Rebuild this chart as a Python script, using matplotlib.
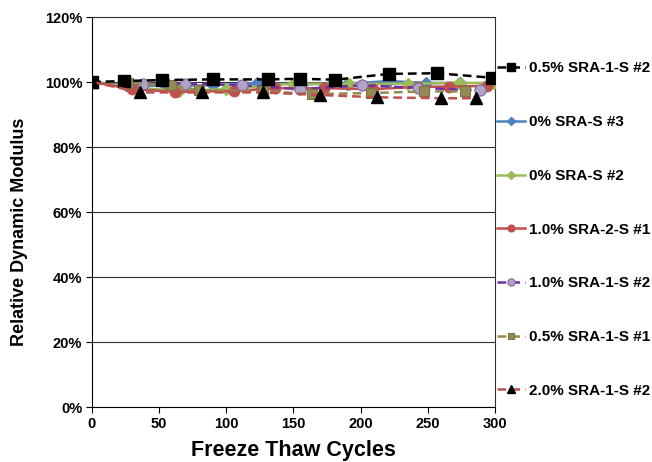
import matplotlib
matplotlib.use("Agg")
import matplotlib.pyplot as plt
from matplotlib.ticker import FuncFormatter

plt.rcParams["font.family"] = ["Liberation Sans", "DejaVu Sans"]
plt.rcParams["font.weight"] = "bold"

# Relative dynamic modulus (%) vs freeze-thaw cycles
x_sra1_05_2 = [0, 24, 52, 90, 131, 155, 181, 221, 257, 298]
y_sra1_05_2 = [100, 100.3, 100.6, 100.8, 100.8, 101.0, 100.7, 102.5, 102.7, 101.3]

x_sra0_3 = [0, 25, 55, 90, 123, 156, 190, 221, 249, 274]
y_sra0_3 = [100, 99.0, 98.8, 99.0, 99.7, 99.3, 99.5, 100.3, 99.7, 99.7]

x_sra0_2 = [0, 28, 65, 100, 150, 191, 235, 273, 299]
y_sra0_2 = [100, 98.5, 97.2, 97.8, 99.5, 99.4, 99.5, 99.7, 99.7]

x_sra2_10_1 = [0, 30, 62, 106, 136, 173, 209, 243, 266, 294]
y_sra2_10_1 = [100, 97.8, 97.0, 97.2, 98.1, 98.1, 97.8, 98.5, 98.6, 98.8]

x_sra1_10_2 = [0, 38, 69, 112, 155, 201, 243, 289]
y_sra1_10_2 = [100, 99.4, 99.5, 99.0, 97.8, 99.0, 98.2, 97.4]

x_sra1_05_1 = [0, 27, 59, 80, 127, 164, 208, 247, 278]
y_sra1_05_1 = [100, 99.7, 99.0, 97.5, 97.2, 96.3, 96.6, 97.1, 97.1]

x_sra1_20_2 = [0, 36, 82, 127, 170, 212, 260, 286]
y_sra1_20_2 = [100, 96.8, 96.8, 96.8, 96.0, 95.3, 95.0, 95.0]

fig = plt.figure(figsize=(6.52, 4.62), dpi=100)
ax = fig.add_axes([0.1411, 0.1190, 0.6181, 0.8442])

dash = (3.5, 2)
lines = []
lines += ax.plot(x_sra1_05_2, y_sra1_05_2, color="black", lw=1.8, dashes=dash,
                 marker="s", ms=8, mfc="black", mec="black", zorder=9,
                 label="0.5% SRA-1-S #2")
lines += ax.plot(x_sra0_3, y_sra0_3, color="#4F81BD", lw=1.8,
                 marker="D", ms=6, mfc="#4F81BD", mec="#4F81BD", zorder=4,
                 label="0% SRA-S #3")
lines += ax.plot(x_sra0_2, y_sra0_2, color="#9BBB59", lw=1.8,
                 marker="D", ms=6, mfc="#9BBB59", mec="#9BBB59", zorder=5,
                 label="0% SRA-S #2")
lines += ax.plot(x_sra2_10_1, y_sra2_10_1, color="#C0504D", lw=1.8,
                 marker="o", ms=7.5, mfc="#C0504D", mec="#C0504D", zorder=6,
                 label="1.0% SRA-2-S #1")
lines += ax.plot(x_sra1_10_2, y_sra1_10_2, color="#7030A0", lw=1.8, dashes=dash,
                 marker="o", ms=8, mfc="#B3A2C7", mec="#8064A2", mew=0.8, zorder=7,
                 label="1.0% SRA-1-S #2")
lines += ax.plot(x_sra1_05_1, y_sra1_05_1, color="#948A54", lw=1.8, dashes=dash,
                 marker="s", ms=7.5, mfc="#948A54", mec="#7F7543", mew=0.8, zorder=8,
                 label="0.5% SRA-1-S #1")
lines += ax.plot(x_sra1_20_2, y_sra1_20_2, color="#C0504D", lw=1.8, dashes=dash,
                 marker="^", ms=9, mfc="black", mec="black", zorder=10,
                 label="2.0% SRA-1-S #2")

ax.set_xlim(0, 300)
ax.set_ylim(0, 120)
ax.set_xticks(range(0, 301, 50))
ax.set_yticks(range(0, 121, 20))
ax.yaxis.set_major_formatter(FuncFormatter(lambda v, p: "{:.0f}%".format(v)))
ax.grid(axis="y", color="#303030", lw=0.8)
ax.set_axisbelow(True)
for side in ["left", "bottom", "right", "top"]:
    ax.spines[side].set_color("#303030")
    ax.spines[side].set_linewidth(0.8)
ax.spines["left"].set_color("black")
ax.spines["bottom"].set_color("black")
ax.tick_params(axis="both", direction="out", length=4, width=0.8, labelsize=10.5,
               colors="black", pad=3)
for t in ax.get_xticklabels() + ax.get_yticklabels():
    t.set_fontweight("bold")

ax.set_ylabel("Relative Dynamic Modulus", fontsize=13, fontweight="bold")
ax.yaxis.set_label_coords(-0.16, 0.449)
ax.set_xlabel("Freeze Thaw Cycles", fontsize=15.5, fontweight="bold")
ax.xaxis.set_label_coords(0.5, -0.085)

fig.legend(handles=lines, loc="center left", bbox_to_anchor=(497 / 652, 0.503),
           frameon=False, handlelength=1.85, handletextpad=0.25,
           labelspacing=2.6, borderpad=0, borderaxespad=0, markerscale=0.65,
           prop={"weight": "bold", "size": 11})

fig.savefig("out.png", dpi=100)
